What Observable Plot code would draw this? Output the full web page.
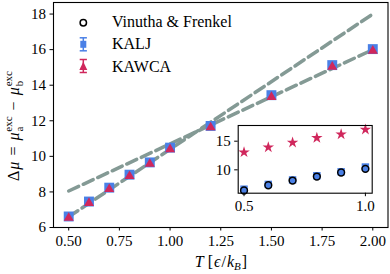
<!DOCTYPE html>
<html><head><meta charset="utf-8">
<script src="https://cdn.jsdelivr.net/npm/d3@7"></script>
<script src="https://cdn.jsdelivr.net/npm/@observablehq/plot@0.6"></script>
<style>
body{margin:0;background:#fff;}
#wrap{position:relative;width:390px;height:274px;font-family:"Liberation Serif",serif;}
#wrap svg{position:absolute;}
</style></head><body><div id="wrap"></div>
<script>
// ---- data ----
const T_main = [0.5, 0.6, 0.7, 0.8, 0.9, 1.0, 1.2, 1.5, 1.8, 2.0];
const KALJ = [6.62, 7.46, 8.24, 8.97, 9.66, 10.49, 11.71, 13.44, 15.13, 16.03];
const KAWCA = [6.58, 7.42, 8.20, 8.93, 9.62, 10.44, 11.67, 13.38, 15.08, 15.98];
const fitLowT = [0.5, 2.0];
const fitLowY = [6.6, 18.0];
const fitHighT = [0.5, 2.0];
const fitHighY = [8.05, 16.0];
const T_inset = [0.5, 0.6, 0.7, 0.8, 0.9, 1.0];
const inset_star = [13.07, 13.94, 14.76, 15.58, 16.21, 17.03];
const inset_KALJ = [6.62, 7.46, 8.24, 8.97, 9.66, 10.49];
const inset_VF = [6.39, 7.31, 8.13, 8.83, 9.53, 10.17];
const xTicks = [0.5, 0.75, 1.0, 1.25, 1.5, 1.75, 2.0];
const yTicks = [6, 8, 10, 12, 14, 16, 18];
const insetXTicks = [0.5, 1.0];
const insetYTicks = [10, 15];
const legendLabels = ["Vinutha & Frenkel", "KALJ", "KAWCA"];

const BLUE = "#4a80e6", RED = "#d0275c", GREY = "#849a95";
const FONT = "'Liberation Serif', serif";
const FS = 15;

const main = T_main.map((t, i) => ({T: t, kalj: KALJ[i], kawca: KAWCA[i]}));
const low = fitLowT.map((t, i) => ({T: t, y: fitLowY[i]}));
const high = fitHighT.map((t, i) => ({T: t, y: fitHighY[i]}));
const ins = T_inset.map((t, i) => ({T: t, star: inset_star[i], kalj: inset_KALJ[i], vf: inset_VF[i]}));

const wrap = document.getElementById("wrap");

const chart = Plot.plot({
  width: 390, height: 274,
  marginLeft: 53, marginRight: 2.5, marginTop: 2, marginBottom: 47,
  style: {fontFamily: FONT, fontSize: FS + "px", color: "#000", background: "transparent", overflow: "visible"},
  x: {domain: [0.425, 2.075]},
  y: {domain: [6, 18.65]},
  marks: [
    Plot.line(low, {x: "T", y: "y", stroke: GREY, strokeWidth: 3.5, strokeDasharray: "11,5"}),
    Plot.line(high, {x: "T", y: "y", stroke: GREY, strokeWidth: 3.5, strokeDasharray: "11,5"}),
    Plot.dot(main, {x: "T", y: "kalj", symbol: "square", r: 5.6, fill: BLUE}),
    Plot.dot(main, {x: "T", y: "kawca", symbol: "triangle", r: 3.7, fill: RED, dy: 0.8}),
    Plot.frame({stroke: "#000", strokeWidth: 1.1}),
    Plot.axisX({ticks: xTicks, tickFormat: d3.format(".2f"), tickSize: 3.5, tickPadding: 4, label: null, fontSize: FS}),
    Plot.axisY({ticks: yTicks, tickSize: 3.5, tickPadding: 4, label: null, fontSize: FS})
  ]
});
chart.style.left = "0px"; chart.style.top = "0px";
wrap.appendChild(chart);

const svg = d3.select(chart);
// y label
const yl = svg.append("text")
  .attr("transform", "translate(19,126) rotate(-90)")
  .attr("text-anchor", "middle")
  .style("font-family", FONT).style("font-size", "16px").attr("fill", "#000");
yl.append("tspan").text("Δ");
yl.append("tspan").style("font-style", "italic").attr("dx", 1).text("μ");
yl.append("tspan").attr("dx", 6).text("=");
yl.append("tspan").style("font-style", "italic").attr("dx", 6).text("μ");
yl.append("tspan").style("font-size", "11px").attr("dx", 1).attr("dy", 3.5).text("a");
yl.append("tspan").style("font-size", "11px").attr("dx", -5).attr("dy", -10.5).text("exc");
yl.append("tspan").attr("dx", 6).attr("dy", 7).text("−");
yl.append("tspan").style("font-style", "italic").attr("dx", 6).text("μ");
yl.append("tspan").style("font-size", "11px").attr("dx", 1).attr("dy", 3.5).text("b");
yl.append("tspan").style("font-size", "11px").attr("dx", -5.5).attr("dy", -10.5).text("exc");

// x label
const xl = svg.append("text")
  .attr("x", 221).attr("y", 267)
  .attr("text-anchor", "middle")
  .style("font-family", FONT).style("font-size", "16px").attr("fill", "#000");
xl.append("tspan").style("font-style", "italic").text("T");
xl.append("tspan").attr("dx", 4).text("[");
xl.append("tspan").style("font-style", "italic").attr("dx", 1).text("ϵ");
xl.append("tspan").attr("dx", 1).text("/");
xl.append("tspan").style("font-style", "italic").attr("dx", 1).text("k");
xl.append("tspan").style("font-style", "italic").style("font-size", "11px").attr("dy", 3).text("B");
xl.append("tspan").attr("dx", 1).attr("dy", -3).text("]");

// legend
const lg = svg.append("g").style("font-family", FONT).style("font-size", "16px").attr("text-anchor", "start");
lg.append("circle").attr("cx", 83.3).attr("cy", 22.7).attr("r", 3.2)
  .attr("fill", "none").attr("stroke", "#000").attr("stroke-width", 1.5);
function eb(y, color) {
  lg.append("line").attr("x1", 83.3).attr("x2", 83.3).attr("y1", y - 6.5).attr("y2", y + 6.5).attr("stroke", color).attr("stroke-width", 1.5);
  lg.append("line").attr("x1", 79.7).attr("x2", 86.9).attr("y1", y - 6.5).attr("y2", y - 6.5).attr("stroke", color).attr("stroke-width", 1.5);
  lg.append("line").attr("x1", 79.7).attr("x2", 86.9).attr("y1", y + 6.5).attr("y2", y + 6.5).attr("stroke", color).attr("stroke-width", 1.5);
}
eb(44.3, BLUE);
lg.append("rect").attr("x", 80.3).attr("y", 40.8).attr("width", 6).attr("height", 7).attr("fill", BLUE);
eb(66, RED);
lg.append("path").attr("d", "M83.3,61.8 L87.3,70 L79.3,70 Z").attr("fill", RED);
legendLabels.forEach((t, i) => {
  lg.append("text").attr("x", 112).attr("y", 27 + i * 22.4).attr("fill", "#000").text(t);
});

// inset
const inset = Plot.plot({
  width: 180, height: 100,
  marginLeft: 32.7, marginRight: 13.3, marginTop: 7, marginBottom: 25.3,
  style: {fontFamily: FONT, fontSize: FS + "px", color: "#000", background: "transparent", overflow: "visible"},
  x: {domain: [0.476, 1.028]},
  y: {domain: [5.92, 17.74]},
  marks: [
    Plot.frame({fill: "#fff"}),
    Plot.dot(ins, {x: "T", y: "star", symbol: "star", r: 3.6, fill: RED}),
    Plot.dot(ins, {x: "T", y: "kalj", symbol: "square", r: 4.2, fill: BLUE}),
    Plot.dot(ins, {x: "T", y: "vf", r: 3.4, fill: BLUE, stroke: "#000", strokeWidth: 1.5}),
    Plot.frame({stroke: "#000", strokeWidth: 1.1}),
    Plot.axisX({ticks: insetXTicks, tickFormat: d3.format(".1f"), tickSize: 3.5, tickPadding: 4, label: null, fontSize: FS}),
    Plot.axisY({ticks: insetYTicks, tickSize: 3.5, tickPadding: 4, label: null, fontSize: FS})
  ]
});
inset.style.left = "205px"; inset.style.top = "118px";
wrap.appendChild(inset);
</script>
</body></html>
